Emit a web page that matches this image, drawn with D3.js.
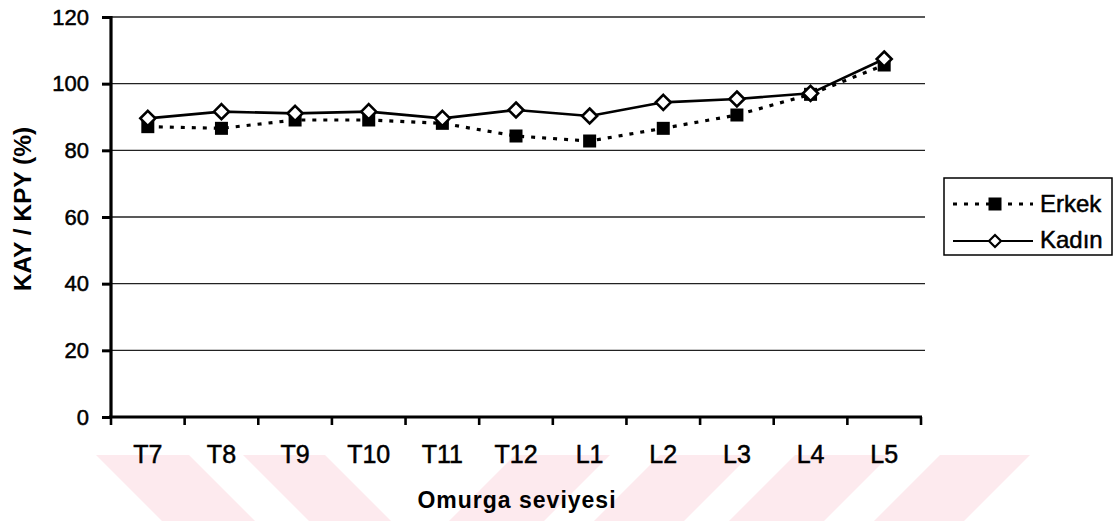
<!DOCTYPE html>
<html>
<head>
<meta charset="utf-8">
<script src="https://cdn.jsdelivr.net/npm/d3@7/dist/d3.min.js"></script>
<style>
  html, body { margin: 0; padding: 0; background: #fff; }
  svg { display: block; font-family: "Liberation Sans", Arial, sans-serif; }
</style>
</head>
<body>
<svg id="chart" width="1115" height="521"></svg>
<script>
// ---- data ----
const categories = ["T7", "T8", "T9", "T10", "T11", "T12", "L1", "L2", "L3", "L4", "L5"];
const erkek = [87.1, 86.6, 89.1, 89.1, 88.1, 84.3, 82.8, 86.6, 90.6, 96.8, 105.6];
const kadin = [89.6, 91.6, 91.1, 91.6, 89.6, 92.1, 90.3, 94.4, 95.4, 97.1, 107.4];
const yTicks = [0, 20, 40, 60, 80, 100, 120];
const seriesNames = ["Erkek", "Kadın"];
const yTitle = "KAY / KPY (%)";
const xTitle = "Omurga seviyesi";

const svg = d3.select("#chart");

// ---- faint watermark stripes (background decoration) ----
const wm = svg.append("g").attr("fill", "#fdeaee");
const wTop = 455, wBot = 521, sh = wBot - wTop;
[[96, 189], [243, 325]].forEach(([a, b]) => {
  wm.append("polygon").attr("points", `${a},${wTop} ${b},${wTop} ${b + sh},${wBot} ${a + sh},${wBot}`);
});
[[515, 610], [660, 750], [795, 890], [940, 1030]].forEach(([a, b]) => {
  wm.append("polygon").attr("points", `${a},${wTop} ${b},${wTop} ${b - sh},${wBot} ${a - sh},${wBot}`);
});

// ---- scales ----
const x = d3.scaleBand().domain(categories).range([111, 921]).paddingInner(0).paddingOuter(0);
const y = d3.scaleLinear().domain([0, 120]).range([417, 17]);
const cx = d => x(d) + x.bandwidth() / 2;

// ---- grid lines ----
svg.append("g").selectAll("line").data(yTicks.filter(v => v > 0)).join("line")
  .attr("x1", 111).attr("x2", 925)
  .attr("y1", d => y(d)).attr("y2", d => y(d))
  .attr("stroke", "#222").attr("stroke-width", 1.3);

// ---- y axis ----
const yAxis = d3.axisLeft(y).tickValues(yTicks).tickSize(9).tickPadding(13).tickFormat(d3.format("d"));
const yg = svg.append("g").attr("transform", "translate(111,0)").call(yAxis);
yg.select(".domain").attr("stroke", "#000").attr("stroke-width", 3.2).attr("d", "M0,16V418");
yg.selectAll(".tick line").attr("stroke", "#000").attr("stroke-width", 3);
yg.selectAll(".tick text").attr("font-size", 22).attr("fill", "#000")
  .attr("stroke", "#000").attr("stroke-width", 0.5)
  .attr("font-family", "Liberation Sans, Arial, sans-serif");

// ---- x axis ----
const xg = svg.append("g").attr("transform", "translate(0,417)");
xg.append("line").attr("x1", 109).attr("x2", 922).attr("y1", 0).attr("y2", 0)
  .attr("stroke", "#000").attr("stroke-width", 3.2);
const edges = categories.map(c => x(c)).concat([x(categories[categories.length - 1]) + x.bandwidth()]);
xg.selectAll("line.tk").data(edges).join("line").attr("class", "tk")
  .attr("x1", d => d).attr("x2", d => d).attr("y1", 0).attr("y2", 8)
  .attr("stroke", "#000").attr("stroke-width", 2.6);
xg.selectAll("text").data(categories).join("text")
  .attr("x", d => cx(d)).attr("y", 46)
  .attr("text-anchor", "middle").attr("font-size", 25).attr("fill", "#000")
  .attr("stroke", "#000").attr("stroke-width", 0.5)
  .text(d => d);

// ---- axis titles ----
svg.append("text").attr("transform", "translate(31,209) rotate(-90)")
  .attr("text-anchor", "middle").attr("font-size", 24.5).attr("font-weight", "bold")
  .text(yTitle);
svg.append("text").attr("x", 517).attr("y", 508)
  .attr("text-anchor", "middle").attr("font-size", 23).attr("font-weight", "bold")
  .attr("letter-spacing", 1).text(xTitle);

// ---- lines ----
const line = d3.line().x((d, i) => cx(categories[i])).y(d => y(d));
svg.append("path").datum(erkek).attr("d", line).attr("fill", "none")
  .attr("stroke", "#000").attr("stroke-width", 3.2).attr("stroke-dasharray", "4,7");
svg.append("path").datum(kadin).attr("d", line).attr("fill", "none")
  .attr("stroke", "#000").attr("stroke-width", 2.6);

// ---- markers ----
const sq = 13;
svg.append("g").selectAll("rect").data(erkek).join("rect")
  .attr("x", (d, i) => cx(categories[i]) - sq / 2).attr("y", d => y(d) - sq / 2)
  .attr("width", sq).attr("height", sq).attr("fill", "#000");
const diamond = "M0,-7.5L7.5,0L0,7.5L-7.5,0Z";
svg.append("g").selectAll("path").data(kadin).join("path")
  .attr("transform", (d, i) => `translate(${cx(categories[i])},${y(d)})`)
  .attr("d", diamond).attr("fill", "#fff").attr("stroke", "#000").attr("stroke-width", 2.6);

// ---- legend ----
const lg = svg.append("g");
lg.append("rect").attr("x", 944).attr("y", 178).attr("width", 168).attr("height", 77)
  .attr("fill", "#fff").attr("stroke", "#000").attr("stroke-width", 1.5);
const legendRows = [
  { name: seriesNames[0], ly: 204, ty: 212, dash: "4,7", sw: 3.2, marker: "sq" },
  { name: seriesNames[1], ly: 241, ty: 248, dash: null, sw: 2.2, marker: "dia" }
];
legendRows.forEach(r => {
  const l = lg.append("line").attr("x1", 953).attr("x2", 1033).attr("y1", r.ly).attr("y2", r.ly)
    .attr("stroke", "#000").attr("stroke-width", r.sw);
  if (r.dash) l.attr("stroke-dasharray", r.dash);
  if (r.marker === "sq") {
    lg.append("rect").attr("x", 995 - sq / 2).attr("y", r.ly - sq / 2).attr("width", sq).attr("height", sq).attr("fill", "#000");
  } else {
    lg.append("path").attr("transform", `translate(995,${r.ly})`).attr("d", "M0,-6L6,0L0,6L-6,0Z")
      .attr("fill", "#fff").attr("stroke", "#000").attr("stroke-width", 2.2);
  }
  lg.append("text").attr("x", 1040).attr("y", r.ty).attr("font-size", 24).attr("fill", "#000")
    .attr("stroke", "#000").attr("stroke-width", 0.5).text(r.name);
});
</script>
</body>
</html>
